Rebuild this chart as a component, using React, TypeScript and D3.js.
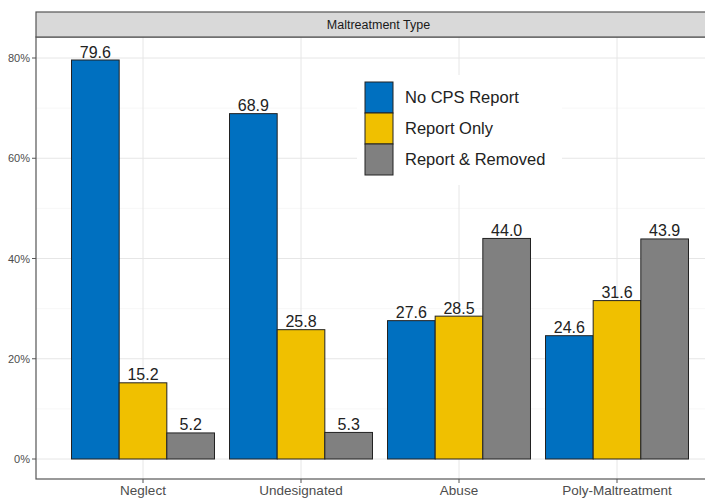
import { useEffect, useRef } from 'react';
import * as d3 from 'd3';

const categories = ['Neglect', 'Undesignated', 'Abuse', 'Poly-Maltreatment'];
const seriesNames = ['No CPS Report', 'Report Only', 'Report & Removed'];
const noReport = [79.6, 68.9, 27.6, 24.6];
const reportOnly = [15.2, 25.8, 28.5, 31.6];
const reportRemoved = [5.2, 5.3, 44.0, 43.9];
const yTicks = [0, 20, 40, 60, 80];
const yMinor = [10, 30, 50, 70];
const colors = ['#0070C0', '#F0C000', '#808080'];

const W = 705;
const H = 498;
const FONT = '"Liberation Sans", Arial, sans-serif';

export default function App() {
  const svgRef = useRef<SVGSVGElement>(null);

  useEffect(() => {
    if (!svgRef.current) return;
    const svg = d3.select(svgRef.current);
    svg.selectAll('*').remove();

    const panel = { left: 36, top: 37, right: 724, bottom: 479 };
    const series = [noReport, reportOnly, reportRemoved];

    const x = d3.scaleBand<string>()
      .domain(categories)
      .range([64, 696])
      .paddingInner(0.095)
      .paddingOuter(0.0475);
    const xs = d3.scaleBand<string>()
      .domain(seriesNames)
      .range([0, x.bandwidth()]);
    const y = d3.scaleLinear().domain([0, 80]).range([459, 58]);

    svg.append('rect').attr('width', W).attr('height', H).attr('fill', '#fff');

    // grid
    const g = svg.append('g');
    g.selectAll('.minor').data(yMinor).join('line')
      .attr('x1', panel.left).attr('x2', panel.right)
      .attr('y1', d => y(d)).attr('y2', d => y(d))
      .attr('stroke', '#f2f2f2').attr('stroke-width', 0.6);
    g.selectAll('.major').data(yTicks).join('line')
      .attr('x1', panel.left).attr('x2', panel.right)
      .attr('y1', d => y(d)).attr('y2', d => y(d))
      .attr('stroke', '#e6e6e6').attr('stroke-width', 1);
    g.selectAll('.vgrid').data(categories).join('line')
      .attr('x1', d => x(d)! + x.bandwidth() / 2).attr('x2', d => x(d)! + x.bandwidth() / 2)
      .attr('y1', panel.top).attr('y2', panel.bottom)
      .attr('stroke', '#e6e6e6').attr('stroke-width', 1);

    // bars
    series.forEach((vals, si) => {
      const name = seriesNames[si];
      svg.append('g').selectAll('rect').data(vals).join('rect')
        .attr('x', (_, i) => x(categories[i])! + xs(name)!)
        .attr('y', d => y(d))
        .attr('width', xs.bandwidth())
        .attr('height', d => y(0) - y(d))
        .attr('fill', colors[si])
        .attr('stroke', '#222')
        .attr('stroke-width', 1);
      svg.append('g').selectAll('text').data(vals).join('text')
        .attr('x', (_, i) => x(categories[i])! + xs(name)! + xs.bandwidth() / 2)
        .attr('y', d => y(d) - 2.5)
        .attr('text-anchor', 'middle')
        .attr('font-family', FONT)
        .attr('font-size', 16)
        .attr('fill', '#222')
        .text(d => d.toFixed(1));
    });

    // panel border
    svg.append('rect')
      .attr('x', panel.left).attr('y', panel.top)
      .attr('width', panel.right - panel.left).attr('height', panel.bottom - panel.top)
      .attr('fill', 'none').attr('stroke', '#555').attr('stroke-width', 1.2);

    // strip
    svg.append('rect')
      .attr('x', panel.left).attr('y', 12)
      .attr('width', panel.right - panel.left).attr('height', panel.top - 12)
      .attr('fill', '#d9d9d9').attr('stroke', '#555').attr('stroke-width', 1.2);
    svg.append('text')
      .attr('x', (panel.left + W) / 2 + 8).attr('y', 29)
      .attr('text-anchor', 'middle')
      .attr('font-family', FONT).attr('font-size', 12.5)
      .attr('fill', '#1a1a1a')
      .text('Maltreatment Type');

    // y axis
    const ya = svg.append('g');
    ya.selectAll('line').data(yTicks).join('line')
      .attr('x1', panel.left - 4).attr('x2', panel.left)
      .attr('y1', d => y(d)).attr('y2', d => y(d))
      .attr('stroke', '#555');
    ya.selectAll('text').data(yTicks).join('text')
      .attr('x', panel.left - 6).attr('y', d => y(d) + 4)
      .attr('text-anchor', 'end')
      .attr('font-family', FONT).attr('font-size', 11)
      .attr('fill', '#4d4d4d')
      .text(d => d3.format('.0%')(d / 100));

    // x axis
    const xa = svg.append('g');
    xa.selectAll('line').data(categories).join('line')
      .attr('x1', d => x(d)! + x.bandwidth() / 2).attr('x2', d => x(d)! + x.bandwidth() / 2)
      .attr('y1', panel.bottom).attr('y2', panel.bottom + 4)
      .attr('stroke', '#555');
    xa.selectAll('text').data(categories).join('text')
      .attr('x', d => x(d)! + x.bandwidth() / 2).attr('y', panel.bottom + 16)
      .attr('text-anchor', 'middle')
      .attr('font-family', FONT).attr('font-size', 13.5)
      .attr('fill', '#4d4d4d')
      .text(d => d);

    // legend
    const lg = svg.append('g');
    lg.append('rect')
      .attr('x', 357).attr('y', 75).attr('width', 205).attr('height', 110)
      .attr('fill', '#fff');
    seriesNames.forEach((name, i) => {
      const top = 82 + i * 31;
      lg.append('rect')
        .attr('x', 365).attr('y', top).attr('width', 28).attr('height', 31)
        .attr('fill', colors[i]).attr('stroke', '#222').attr('stroke-width', 1);
      lg.append('text')
        .attr('x', 405).attr('y', top + 21)
        .attr('font-family', FONT).attr('font-size', 16.5)
        .attr('fill', '#222')
        .text(name);
    });
  }, []);

  return (
    <svg
      ref={svgRef}
      width={W}
      height={H}
      style={{ position: 'absolute', left: 0, top: 0 }}
    ></svg>
  );
}
